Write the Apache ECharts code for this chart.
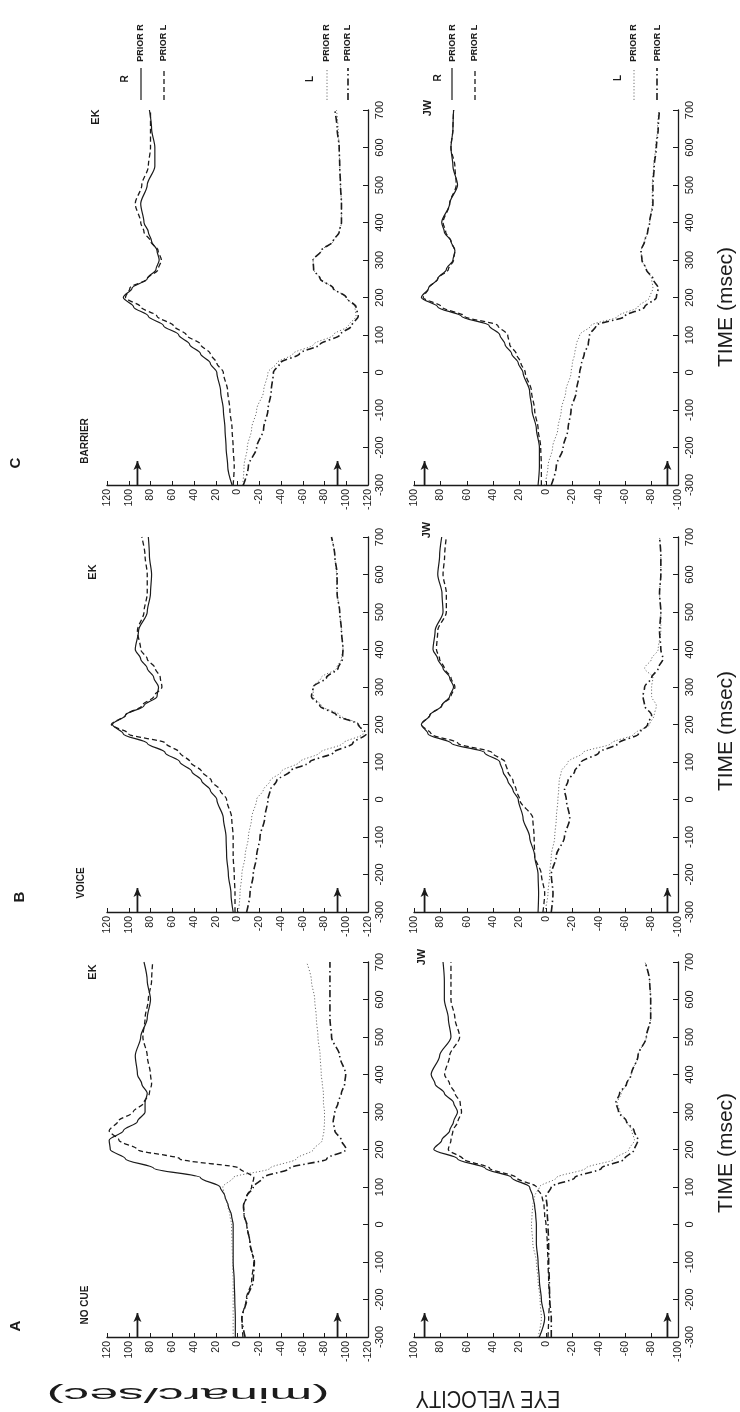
<!DOCTYPE html>
<html>
<head>
<meta charset="utf-8">
<script src="https://cdn.jsdelivr.net/npm/echarts@6/dist/echarts.min.js"></script>
<style>
html, body { margin: 0; padding: 0; background: #fff; }
#eye-chart { width: 740px; height: 1412px; }
</style>
</head>
<body>
<div id="eye-chart"></div>
<script>
// time samples (msec) shared by every trace
const timeMs = [-300, -250, -200, -150, -100, -50, 0, 25, 50, 75, 100, 125, 150, 175, 200, 225, 250, 275, 300, 325, 350, 375, 400, 450, 500, 550, 600, 650, 700];
const velTicksEk = [-120, 120];
const velTicksJw = [-100, 100];
const arrowVel = 92;
const arrowTime = [-300, -236];

// A  NO CUE
const aEkRpR = [2, 2, 2.5, 3, 4, 4, 4, 5.5, 8.5, 11.5, 16, 34, 77, 103, 117, 118, 105, 92, 85, 85, 83, 88, 92, 94, 89, 83, 80, 83, 86];
const aEkRpL = [-5, -4, -8, -13, -15, -11.5, -8.5, -6, -5.5, -8.5, -13, -15, -2, 53, 92, 109, 118, 110, 96, 86, 81, 79, 80, 83, 87, 85, 82, 79, 78];
const aEkLpR = [4, 4, 4, 4, 4.5, 5, 5.5, 7, 9, 11.5, 13.5, 4, -30, -54, -70, -78, -79.5, -80, -80, -79, -79, -78, -77, -76, -74, -72.5, -71, -68, -63.5];
const aEkLpL = [-7, -4, -8.5, -14.5, -15.5, -11.5, -8.5, -6, -5.5, -8.5, -14.5, -23.5, -48, -82, -100, -95.5, -89.5, -88, -89.5, -92.5, -95.5, -98.5, -99.5, -94, -86.5, -85, -85, -85, -85];
const aJwRpR = [5, 1, 3.5, 5, 6, 7.3, 7.3, 7.8, 8.6, 10, 12.4, 26, 46, 67, 85, 79, 73, 70, 67, 70, 77, 84, 87, 80.6, 72, 74, 77, 77, 78];
const aJwRpL = [-1.5, -2, -2.8, -2, -1.5, -1, 0, 1, 1.5, 3, 7.3, 22.5, 42.7, 63, 74, 72, 70.5, 66.7, 64, 65, 69, 73, 76.8, 73, 65.4, 69, 72, 72, 72];
const aJwLpR = [6, 3.5, 4.5, 6, 7.3, 10, 11, 10.6, 10, 8.6, 5, -8, -30, -52, -63, -67, -65, -61, -56, -54, -57, -61, -64.6, -69.7, -76, -79.3, -79.3, -78.5, -75];
const aJwLpL = [-4, -4, -2.8, -2.5, -2, -2, -1.5, -1, -0.8, 0, -4, -21.7, -42, -59.6, -67, -69.7, -66.7, -61, -55, -53, -55.8, -61, -64.6, -69.7, -76, -79.3, -79.3, -78.5, -75];

// B  VOICE
const bEkRpR = [4, 6, 8.4, 10, 10.5, 13, 19, 25, 33, 42, 53, 66.5, 83, 105, 115, 103, 86, 74, 72.6, 77, 83, 89, 94, 91, 83, 80, 79, 81, 82];
const bEkRpL = [2.3, 2.3, 3, 4, 4, 5.3, 10, 16, 24, 33, 43.5, 53, 66, 100, 116, 103, 88, 77, 69.5, 71, 75.7, 83, 89, 92, 86, 83, 83, 85, 88];
const bEkLpR = [-0.8, -2.3, -4, -7, -10, -13, -17.6, -23.7, -30, -40.5, -57, -75.7, -97, -115.5, -112, -94, -77, -69.6, -69.6, -77, -91, -95.6, -97, -95.6, -94, -91.6, -91, -89.5, -86.4];
const bEkLpL = [-8.4, -11.5, -14.5, -17.6, -20.7, -25, -28, -30, -36, -48, -66.5, -88, -106, -118.5, -111, -91, -75.7, -68, -69.6, -81.8, -92.5, -96.5, -97, -95.6, -94, -91.6, -91.6, -89.5, -86.4];
const bJwRpR = [6, 5.6, 6, 8.6, 12.4, 17.4, 21, 25, 29, 32.6, 35, 46.5, 71.7, 89.4, 94.4, 88, 79, 73, 70, 73, 78, 82, 85.6, 84, 78, 78.8, 82, 80.6, 79];
const bJwRpL = [2.3, 1, 3.5, 8.6, 9, 10, 20, 22.5, 25, 29, 31, 41, 66.7, 87, 94.4, 88, 79, 72, 69, 72, 77, 80.6, 83, 82, 75.5, 75.5, 78, 76.8, 75.5];
const bJwLpR = [1, -1.5, -2.8, -4, -6.6, -7.8, -9, -9.6, -10, -11.6, -16.7, -28, -49.5, -67, -78.5, -82, -83.6, -80, -80, -81, -74.7, -80, -85, -87, -87, -86, -87, -87, -86];
const bJwLpL = [-4, -5.3, -4, -7.8, -14, -18, -15.4, -14, -16.7, -21.7, -26.8, -40, -55, -70, -77, -80, -74.7, -73.5, -74.7, -80, -85, -88.6, -87, -86, -87, -86, -87, -87, -86];

// C  BARRIER
const cEkRpR = [5, 9, 10.5, 11.5, 13, 15.5, 19, 25, 34, 44, 54, 68, 82, 95.5, 105, 97, 83, 75, 72, 74, 79, 82, 86, 89, 83, 76, 76, 79, 81];
const cEkRpL = [4, 3, 4, 5, 7, 9, 13, 19, 25, 34, 47, 59, 74, 89, 103, 99, 83, 73, 70, 73, 80, 86, 89, 94, 88, 82, 80, 80, 80];
const cEkLpR = [-4.8, -6, -9, -13, -17.6, -24, -28, -36, -51, -70, -88, -102, -109, -108, -100, -88, -76, -70, -69.5, -77, -88, -93.5, -95.6, -95.6, -94.7, -94, -93.5, -92.5, -91];
const cEkLpL = [-5.4, -10, -17.6, -24, -28, -31, -33, -39, -57, -76, -94, -105, -111, -109, -100, -88, -76, -70, -69.5, -77, -88, -93.5, -95.6, -95.6, -94.7, -94, -93.5, -91.6, -89.5];
const cJwRpR = [6, 5, 5, 7.3, 10.6, 12.4, 17.4, 21, 26, 31, 35, 43, 64, 82, 94.4, 89, 82, 75.5, 70.5, 69, 72, 77, 79, 73, 67, 70.5, 72, 70.5, 70];
const cJwRpL = [3.5, 3.5, 4, 6, 8.6, 11, 15.7, 19, 22.5, 27.5, 29, 36.4, 61.6, 79, 93, 89, 82, 74, 70, 69, 72, 76, 78, 73, 68, 69, 72, 70.5, 70];
const cJwLpR = [1, -1.5, -5, -9, -11.6, -15, -19, -20, -21.7, -23, -25.5, -34, -54.5, -69.7, -78.5, -81, -80, -76, -72.7, -72, -74.7, -77, -78.5, -80.5, -80.5, -81.5, -83, -84.5, -85.5];
const cJwLpL = [-4, -7.8, -13, -16.7, -19, -23, -25.5, -27, -29, -32, -33, -38, -59.6, -74.7, -83.6, -85, -81, -76, -72.7, -72, -74.7, -77, -78.5, -81, -81, -82, -83.6, -85, -86];

const INK = '#1b1b1b';
const FONT = "'Liberation Sans', Arial, sans-serif";

// solid = R prior R, dashed = R prior L, dotted = L prior R, dash-dot = L prior L
const traceStyles = [
  { type: 'solid', width: 1.2, color: INK },
  { type: [5, 3], width: 1.3, color: INK },
  { type: [1.2, 2], width: 1, color: '#707070' },
  { type: [7, 3, 1.5, 3], width: 1.6, color: INK }
];
const traceNames = ['R prior R', 'R prior L', 'L prior R', 'L prior L'];

// rotated page: time runs up the page, velocity runs right to left
const panels = [
  { top: 962, ek: [aEkRpR, aEkRpL, aEkLpR, aEkLpL], jw: [aJwRpR, aJwRpL, aJwLpR, aJwLpL] },
  { top: 537, ek: [bEkRpR, bEkRpL, bEkLpR, bEkLpL], jw: [bJwRpR, bJwRpL, bJwLpR, bJwLpL] },
  { top: 110, ek: [cEkRpR, cEkRpL, cEkLpR, cEkLpL], jw: [cJwRpR, cJwRpL, cJwLpR, cJwLpL] }
];

const grids = [], xAxes = [], yAxes = [], series = [];

function velAxis(gi, range) {
  return {
    gridIndex: gi, type: 'value', inverse: true, min: range[0], max: range[1], interval: 20,
    position: 'bottom',
    axisLine: { onZero: false, lineStyle: { color: INK, width: 1.3 } },
    axisTick: { inside: true, length: 4, lineStyle: { color: INK } },
    axisLabel: { rotate: 90, margin: 4, fontSize: 10.5, color: INK, fontFamily: FONT },
    splitLine: { show: false }
  };
}
function timeAxis(gi) {
  return {
    gridIndex: gi, type: 'value', min: -300, max: 700, interval: 100, position: 'right',
    axisLine: { onZero: false, lineStyle: { color: INK, width: 1.3 } },
    axisTick: { inside: true, length: 5, lineStyle: { color: INK } },
    axisLabel: { rotate: 90, margin: 6, fontSize: 11, color: INK, fontFamily: FONT },
    splitLine: { show: false }
  };
}
function addTraces(gi, traces) {
  traces.forEach((vals, k) => {
    series.push({
      type: 'line', name: traceNames[k], xAxisIndex: gi, yAxisIndex: gi,
      data: timeMs.map((t, i) => [vals[i], t]),
      symbol: 'none', smooth: 0.3, smoothMonotone: 'y', silent: true,
      lineStyle: traceStyles[k]
    });
  });
  // stimulus arrows at +/- arrowVel
  [arrowVel, -arrowVel].forEach(v => {
    series.push({
      type: 'line', xAxisIndex: gi, yAxisIndex: gi, silent: true,
      symbol: 'none', showSymbol: true,
      data: [[v, arrowTime[0]], { value: [v, arrowTime[1]], symbol: 'arrow', symbolSize: [6, 9] }],
      lineStyle: { color: INK, width: 1.8 },
      itemStyle: { color: INK }
    });
  });
}

panels.forEach((p, pi) => {
  const gEk = pi * 2, gJw = pi * 2 + 1;
  grids.push({ left: 107, top: p.top, width: 261, height: 375 });
  grids.push({ left: 414, top: p.top, width: 264, height: 375 });
  xAxes.push(velAxis(gEk, velTicksEk), velAxis(gJw, velTicksJw));
  yAxes.push(timeAxis(gEk), timeAxis(gJw));
  addTraces(gEk, p.ek);
  addTraces(gJw, p.jw);
});

// texts and legend keys
const elements = [];
function txt(x, y, text, size, opts) {
  opts = opts || {};
  elements.push({
    type: 'text', x: x, y: y, rotation: opts.rot === undefined ? Math.PI / 2 : opts.rot,
    scaleX: opts.sx || 1, scaleY: 1,
    style: {
      text: text, fontSize: size, fontFamily: FONT, fontWeight: opts.weight || 'bold',
      fill: INK, align: 'center', verticalAlign: 'middle'
    }
  });
}
function key(x, styleIdx) {
  const s = traceStyles[styleIdx];
  elements.push({
    type: 'line', shape: { x1: x, y1: 100, x2: x, y2: 68 },
    style: { stroke: s.color, lineWidth: s.width, lineDash: s.type === 'solid' ? null : s.type }
  });
}

txt(16, 463, 'C', 15);
txt(85, 441, 'BARRIER', 10);
txt(96, 117, 'EK', 11);
txt(428, 108, 'JW', 11);
txt(20, 897, 'B', 15);
txt(81, 883, 'VOICE', 10);
txt(93, 572, 'EK', 11);
txt(427, 530, 'JW', 11);
txt(16, 1326, 'A', 15);
txt(85, 1305, 'NO CUE', 10);
txt(93, 972, 'EK', 11);
txt(422, 957, 'JW', 11);

// legends in panel C
txt(125, 79, 'R', 10);
key(141, 0); txt(141, 43, 'PRIOR R', 9);
key(164, 1); txt(164, 43, 'PRIOR L', 9);
txt(310, 79, 'L', 10);
key(327, 2); txt(327, 43, 'PRIOR R', 9);
key(348, 3); txt(348, 43, 'PRIOR L', 9);
txt(438, 78, 'R', 10);
key(452, 0); txt(453, 43, 'PRIOR R', 9);
key(475, 1); txt(475, 43, 'PRIOR L', 9);
txt(618, 78, 'L', 10);
key(634, 2); txt(634, 43, 'PRIOR R', 9);
key(657, 3); txt(658, 43, 'PRIOR L', 9);

// axis titles
txt(726, 307, 'TIME (msec)', 21, { weight: 'normal' });
txt(726, 731, 'TIME (msec)', 21, { weight: 'normal' });
txt(726, 1153, 'TIME (msec)', 21, { weight: 'normal' });
txt(488, 1397, 'EYE VELOCITY', 23, { weight: 'normal', rot: Math.PI, sx: 0.87 });
txt(188, 1394, '(minarc/sec)', 21, { weight: 'normal', rot: Math.PI, sx: 2.45 });

const chart = echarts.init(document.getElementById('eye-chart'));
chart.setOption({
  animation: false,
  backgroundColor: '#fff',
  grid: grids,
  xAxis: xAxes,
  yAxis: yAxes,
  series: series,
  graphic: { elements: elements }
});
</script>
</body>
</html>
